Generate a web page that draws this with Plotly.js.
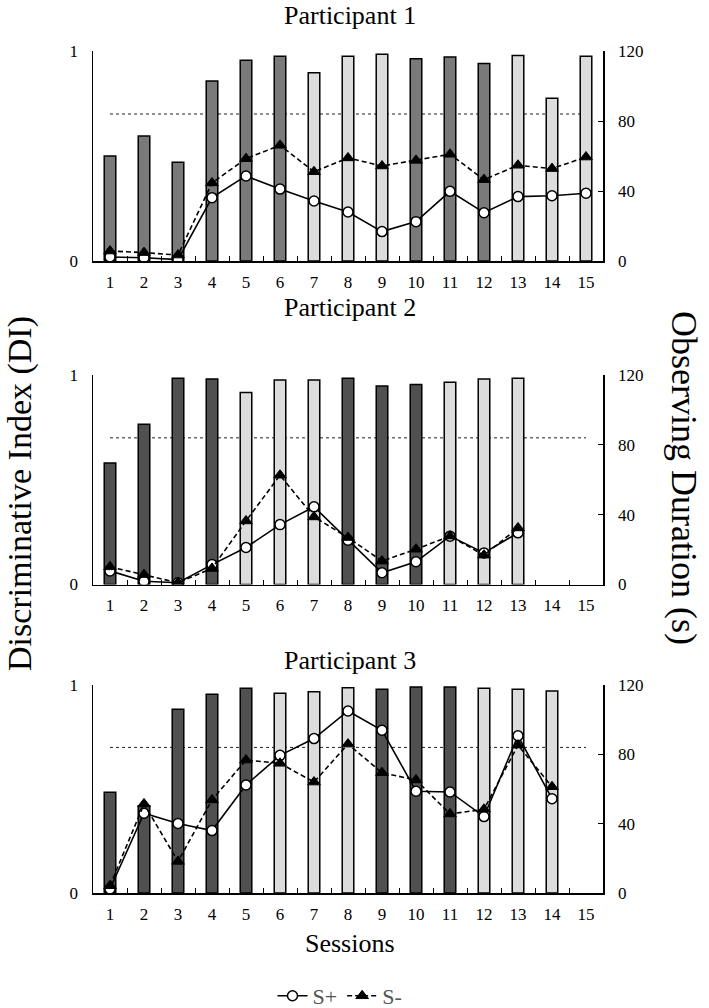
<!DOCTYPE html>
<html>
<head>
<meta charset="utf-8">
<script src="https://cdn.plot.ly/plotly-3.0.1.min.js"></script>
<style>html,body{margin:0;padding:0;background:#fff;}#chart{width:709px;height:1008px;}</style>
</head>
<body>
<div id="chart"></div>
<script>
// ---------- data ----------
const sessions = ['1','2','3','4','5','6','7','8','9','10','11','12','13','14','15'];
const rightTicks = [0, 40, 80, 120];
const criterionDI = 0.7;

// Participant 1
const p1DI     = [0.50, 0.595, 0.47, 0.857, 0.956, 0.975, 0.897, 0.975, 0.984, 0.963, 0.971, 0.94, 0.979, 0.775, 0.975];
const p1Cond   = ['D','D','D','D','D','D','L','L','L','D','D','D','L','L','L'];
const p1Splus  = [2.3, 1.9, 0.8, 36.2, 48.6, 41.1, 34.3, 28.0, 16.8, 22.5, 39.8, 27.6, 36.8, 37.3, 38.7];
const p1Sminus = [5.7, 4.8, 3.4, 44.6, 58.5, 66.1, 51.0, 58.9, 54.3, 57.5, 61.0, 46.5, 54.7, 52.8, 59.4];

// Participant 2
const p2DI     = [0.58, 0.765, 0.984, 0.981, 0.917, 0.976, 0.976, 0.984, 0.948, 0.955, 0.965, 0.981, 0.984, null, null];
const p2Cond   = ['D','D','D','D','L','L','L','D','D','D','L','L','L',null,null];
const p2Splus  = [7.8, 1.9, 1.0, 11.4, 21.2, 34.3, 44.5, 25.4, 6.7, 13.0, 27.7, 18.1, 29.6, null, null];
const p2Sminus = [10.1, 5.7, 1.0, 9.2, 36.4, 62.6, 38.7, 26.9, 13.4, 20.2, 27.7, 16.8, 32.4, null, null];

// Participant 3
const p3DI     = [0.484, 0.419, 0.883, 0.955, 0.984, 0.96, 0.968, 0.987, 0.979, 0.99, 0.99, 0.984, 0.979, 0.971, null];
const p3Cond   = ['D','D','D','D','D','L','L','L','D','D','D','L','L','L',null];
const p3Splus  = [2.3, 46.0, 40.1, 36.0, 62.3, 79.4, 89.1, 105.0, 93.9, 58.7, 58.3, 44.1, 90.7, 54.4, null];
const p3Sminus = [4.2, 51.4, 18.2, 53.7, 76.7, 74.8, 64.0, 85.9, 69.4, 65.2, 45.6, 48.3, 85.3, 61.3, null];

const panelTitles = ['Participant 1', 'Participant 2', 'Participant 3'];

// ---------- styling ----------
const FONT = '"Liberation Serif", "Times New Roman", Times, serif';
const LIGHT = '#dcdcdc';
const darkColors = ['#7a7a7a', '#505050', '#505050'];

const panels = [
  {di: p1DI, cond: p1Cond, sp: p1Splus, sm: p1Sminus},
  {di: p2DI, cond: p2Cond, sp: p2Splus, sm: p2Sminus},
  {di: p3DI, cond: p3Cond, sp: p3Splus, sm: p3Sminus}
];

// pixel geometry
const W = 709, H = 1008;
const L = 93, R = 106, T = 51, B = 115;
const plotH = H - T - B, plotW = W - L - R;
const panelPx = [[51, 261], [375, 584.5], [685, 893]];
const py = v => (H - B - v) / plotH;
const px = v => (v - L) / plotW;

const traces = [];
const layout = {
  width: W, height: H,
  margin: {l: L, r: R, t: T, b: B, autoexpand: false},
  paper_bgcolor: '#fff', plot_bgcolor: '#fff',
  font: {family: FONT, color: '#000', size: 16},
  showlegend: true,
  legend: {
    orientation: 'h', x: px(340), xanchor: 'center', y: py(975), yanchor: 'top',
    font: {family: FONT, size: 22, color: '#555'}, bgcolor: 'rgba(0,0,0,0)'
  },
  shapes: [], annotations: []
};

panels.forEach((p, i) => {
  const n = i + 1;
  const xa = n === 1 ? 'x' : 'x' + n;
  const yl = 'y' + (2 * i + 1 === 1 ? '' : (2 * i + 1));
  const yr = 'y' + (2 * i + 2);
  const xKey = n === 1 ? 'xaxis' : 'xaxis' + n;
  const ylKey = 'yaxis' + (2 * i + 1 === 1 ? '' : (2 * i + 1));
  const yrKey = 'yaxis' + (2 * i + 2);
  const dom = [py(panelPx[i][1]), py(panelPx[i][0])];

  layout[xKey] = {
    type: 'category', categoryorder: 'array', categoryarray: sessions,
    range: [-0.5, sessions.length - 0.5], anchor: yl, domain: [0, 1],
    tickson: 'boundaries', ticks: 'inside', ticklen: 5, tickwidth: 1, tickcolor: '#000',
    showline: true, linecolor: '#000', linewidth: 1.5, showgrid: false, zeroline: false,
    tickfont: {family: FONT, size: 17, color: '#000'}, ticklabelstandoff: 5, fixedrange: true
  };
  layout[ylKey] = {
    domain: dom, anchor: xa, range: [0, 1], tickvals: [0, 1], ticktext: ['0', '1'],
    ticks: 'inside', ticklen: 5, tickcolor: '#000', showline: true, linecolor: '#000', linewidth: 1.5,
    showgrid: true, gridcolor: '#bdbdbd', gridwidth: 1, zeroline: false,
    tickfont: {family: FONT, size: 17, color: '#000'}, ticklabelstandoff: 10, fixedrange: true
  };
  layout[yrKey] = {
    overlaying: yl, side: 'right', anchor: xa, range: [0, 120], tickvals: rightTicks,
    ticks: 'inside', ticklen: 5, tickcolor: '#000', showline: true, linecolor: '#000', linewidth: 1.5,
    showgrid: false, zeroline: false,
    tickfont: {family: FONT, size: 17, color: '#000'}, ticklabelstandoff: 10, fixedrange: true
  };

  // bars (DI)
  traces.push({
    type: 'bar', x: sessions, y: p.di, xaxis: xa, yaxis: yl, width: 0.34,
    marker: {color: p.cond.map(c => c === 'D' ? darkColors[i] : LIGHT), line: {color: '#000', width: 1.5}},
    showlegend: false, hoverinfo: 'skip'
  });
  // S+ line
  traces.push({
    type: 'scatter', mode: 'lines+markers', name: 'S+', x: sessions, y: p.sp, xaxis: xa, yaxis: yr,
    line: {color: '#000', width: 1.6},
    marker: {symbol: 'circle', size: 10, color: '#fff', line: {color: '#000', width: 1.5}},
    showlegend: i === 0, legendrank: 1
  });
  // S- line
  traces.push({
    type: 'scatter', mode: 'lines+markers', name: 'S-', x: sessions, y: p.sm, xaxis: xa, yaxis: yr,
    line: {color: '#000', width: 1.6, dash: '5px,3px'},
    marker: {symbol: 'triangle-up', size: 11, color: '#000', line: {color: '#000', width: 1}},
    showlegend: i === 0, legendrank: 2
  });

  // criterion line (category indices of first and last session)
  layout.shapes.push({
    type: 'line', xref: xa, yref: yl, x0: 0, x1: sessions.length - 1,
    y0: criterionDI, y1: criterionDI, line: {color: '#222', width: 1, dash: 'dot'}, layer: 'below'
  });
});

// panel titles
const titleY = [16, 307, 660];
panelTitles.forEach((t, i) => {
  layout.annotations.push({
    text: t, xref: 'paper', yref: 'paper', x: px(350), y: py(titleY[i]),
    xanchor: 'center', yanchor: 'middle', showarrow: false,
    font: {family: FONT, size: 26, color: '#000'}
  });
});
layout.annotations.push({
  text: 'Sessions', xref: 'paper', yref: 'paper', x: px(350), y: py(943),
  xanchor: 'center', yanchor: 'middle', showarrow: false, font: {family: FONT, size: 26, color: '#000'}
});
layout.annotations.push({
  text: 'Discriminative Index (DI)', xref: 'paper', yref: 'paper', x: px(20), y: py(494),
  xanchor: 'center', yanchor: 'middle', textangle: -90, showarrow: false,
  font: {family: FONT, size: 34, color: '#000'}
});
layout.annotations.push({
  text: 'Observing Duration (s)', xref: 'paper', yref: 'paper', x: px(684), y: py(478),
  xanchor: 'center', yanchor: 'middle', textangle: 90, showarrow: false,
  font: {family: FONT, size: 36, color: '#000'}
});

Plotly.newPlot('chart', traces, layout, {displayModeBar: false, staticPlot: true});
</script>
</body>
</html>
